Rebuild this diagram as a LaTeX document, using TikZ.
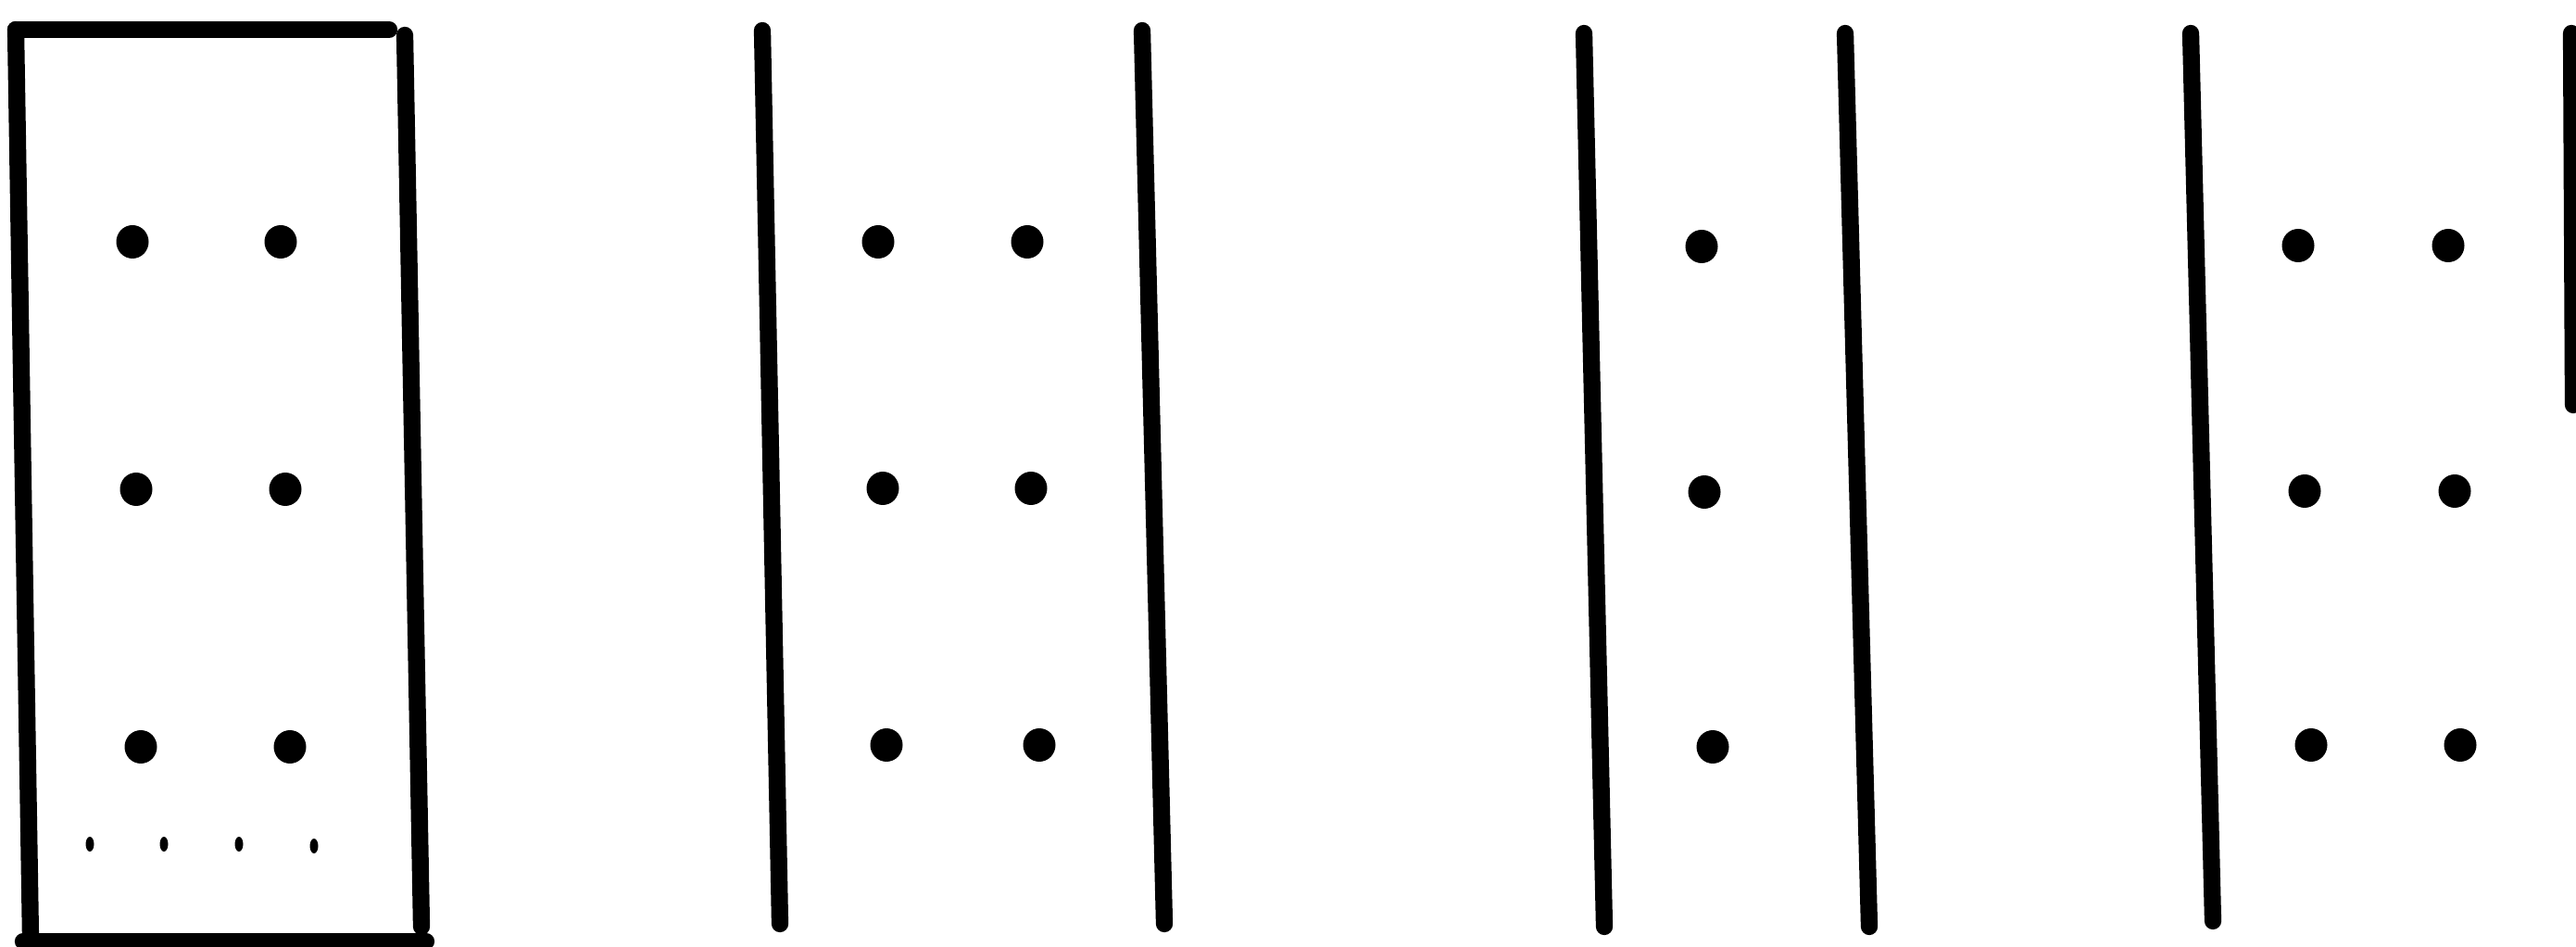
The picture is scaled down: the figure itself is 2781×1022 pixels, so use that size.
\documentclass[tikz,border=0pt]{standalone}
\usepackage{tikz}
\tikzset{wall/.style={line width=5.2pt, line cap=round}}
\newcommand{\hole}[1]{\fill (#1) ellipse (1.75mm and 1.8mm);}
\newcommand{\speck}[1]{\fill (#1) ellipse (0.45mm and 0.8mm);}

\begin{document}
\begin{tikzpicture}[x=0.1mm, y=-0.1mm]
\useasboundingbox (0,0) rectangle (2781,1022);
% closed frame
\draw[wall] (17,32) -- (420,32);
\draw[wall] (17,32) -- (33,1012);
\draw[wall] (437,38) -- (455,1000);
\draw[wall] (25,1016) -- (460,1016);
\hole{143,261} \hole{303,261}
\hole{147,528} \hole{308,528}
\hole{152,806} \hole{313,806}
\speck{97,911} \speck{177,911} \speck{258,911} \speck{339,913}
% open pair, two columns
\draw[wall] (823,33) -- (842,997);
\draw[wall] (1233,33) -- (1257,997);
\hole{948,261} \hole{1109,261}
\hole{953,527} \hole{1113,527}
\hole{957,804} \hole{1122,804}
% open pair, one column
\draw[wall] (1710,36) -- (1732,1000);
\draw[wall] (1992,36) -- (2018,1000);
\hole{1837,266}
\hole{1840,531}
\hole{1849,806}
% last pair, cut off
\draw[wall] (2365,36) -- (2389,994);
\draw[wall] (2776,36) -- (2778,437);
\hole{2481,265} \hole{2643,265}
\hole{2488,530} \hole{2650,530}
\hole{2495,804} \hole{2656,804}
\end{tikzpicture}
\end{document}
